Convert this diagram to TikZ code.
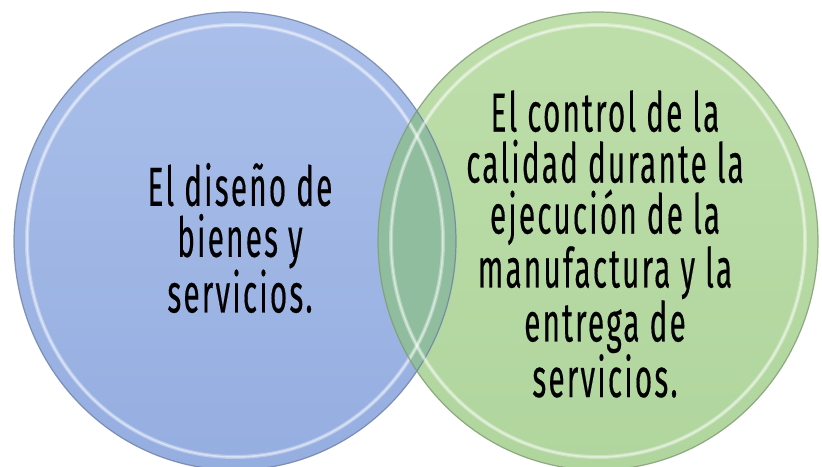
\documentclass[tikz,border=0pt]{standalone}
\usepackage{fontspec}
\setmainfont{Fira Sans}[FakeStretch=0.54, FakeBold=0.3, LetterSpace=4]
\definecolor{bluetop}{HTML}{AABFEA}
\definecolor{bluebot}{HTML}{95AEE0}
\definecolor{greentop}{HTML}{BEDEAA}
\definecolor{greenbot}{HTML}{B0D59D}
\definecolor{overlapc}{HTML}{8FBD9E}
\definecolor{bluerim}{HTML}{6E7FA6}
\definecolor{greenrim}{HTML}{7E9A72}
\tikzset{
  vtext/.style={align=center, font=\fontsize{55}{51}\selectfont, text=black, inner sep=0pt},
  rimline/.style={line width=1.2pt, opacity=0.8},
  hilite/.style={line width=4pt, draw=white, opacity=0.35},
  hilitein/.style={line width=1.5pt, draw=white, opacity=0.45}
}
\begin{document}
\begin{tikzpicture}[x=1pt,y=1pt]
\useasboundingbox (0,0) rectangle (822,466);
\fill[white] (0,0) rectangle (822,466);
\begin{scope}
\clip (0,0) rectangle (822,466);
% blue circle
\shade[top color=bluetop, bottom color=bluebot] (235,225) ellipse [x radius=221, y radius=229];
% green circle
\shade[top color=greentop, bottom color=greenbot] (598,225) ellipse [x radius=220, y radius=229];
% overlap
\begin{scope}
\clip (235,225) ellipse [x radius=221, y radius=229];
\fill[overlapc] (598,225) ellipse [x radius=220, y radius=229];
\end{scope}
% rims
\draw[hilite] (235,225) ellipse [x radius=208, y radius=216];
\draw[hilitein] (235,225) ellipse [x radius=208, y radius=216];
\draw[rimline, draw=bluerim] (235,225) ellipse [x radius=221, y radius=229];
\draw[hilite] (598,225) ellipse [x radius=207, y radius=216];
\draw[hilitein] (598,225) ellipse [x radius=207, y radius=216];
\draw[rimline, draw=greenrim] (598,225) ellipse [x radius=220, y radius=229];
\end{scope}
% texts
\node[vtext] (left) at (240,228) {El diseño de\\bienes y\\servicios.};
\node[vtext] (right) at (605,222) {El control de la\\calidad durante la\\ejecución de la\\manufactura y la\\entrega de\\servicios.};
\end{tikzpicture}
\end{document}
